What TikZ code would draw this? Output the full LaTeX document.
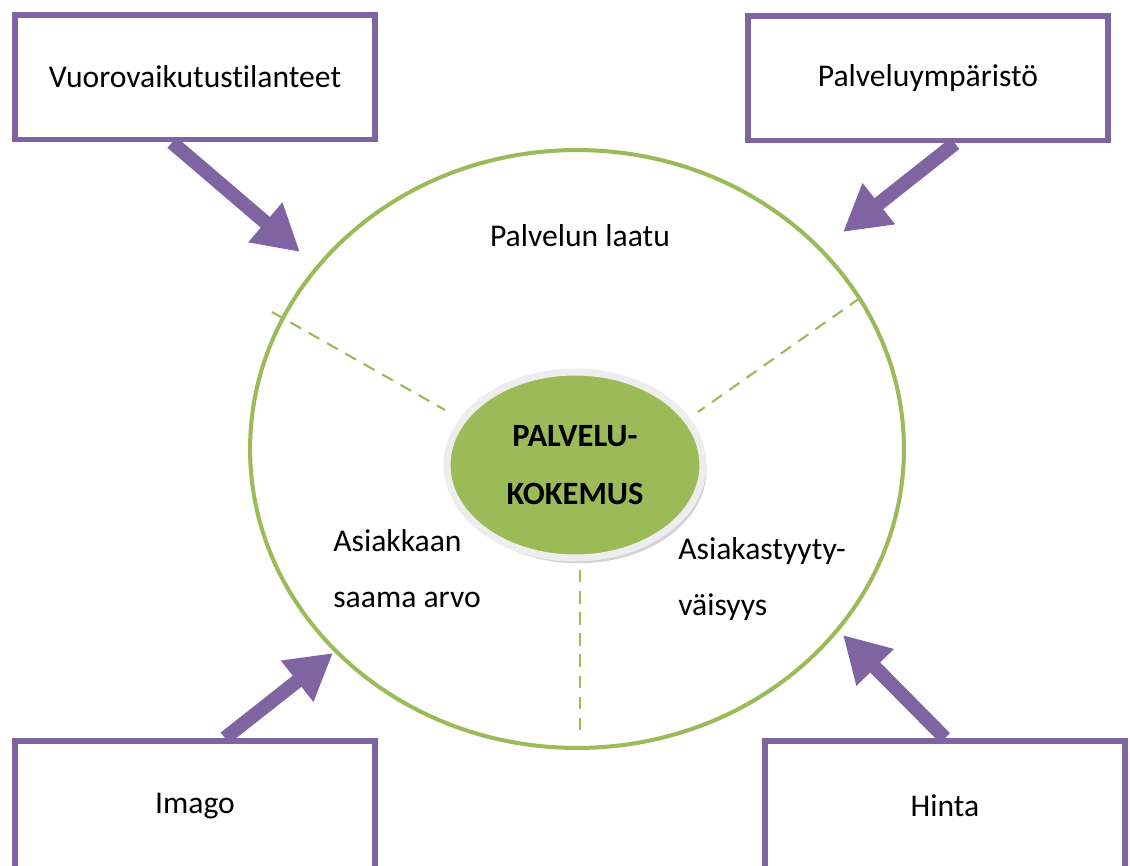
\documentclass[tikz,border=0pt]{standalone}
\usepackage{fontspec}
\setmainfont{Carlito}[Ligatures=NoCommon]
\usetikzlibrary{shapes.geometric, arrows.meta, shadows}
\definecolor{lila}{HTML}{8064A2}
\definecolor{vihrea}{HTML}{9BBB59}
\begin{document}
\begin{tikzpicture}[x=0.02cm, y=-0.02cm]
\useasboundingbox (0,0) rectangle (1130,866);
\tikzstyle{laatikko}=[draw=lila, line width=3.4pt, minimum width=7.2cm, minimum height=2.5cm, inner sep=0pt, font=\fontsize{18}{21}\selectfont]
\tikzstyle{nuoli}=[lila, line width=8pt, -{Triangle[length=26pt, width=28pt]}]
\tikzstyle{katko}=[vihrea, line width=1.2pt, dash pattern=on 7pt off 5pt]
\tikzstyle{teksti}=[align=left, font=\fontsize{18}{32}\selectfont, inner sep=0pt]
\node[draw=vihrea, line width=2.3pt, ellipse, minimum width=13.08cm, minimum height=11.96cm](iso) at (577,449){};
\node[laatikko](vuoro) at (195,77){Vuorovaikutustilanteet};
\node[laatikko](ymp) at (928,78){Palveluympäristö};
\node[laatikko, minimum height=2.6cm](imago) at (195,806){Imago};
\node[laatikko, minimum height=2.6cm](hinta) at (945,806){Hinta};
\coordinate (k1) at (300,252);
\coordinate (k2) at (843,232);
\coordinate (k3) at (333,653);
\coordinate (k4) at (843,635);
\coordinate (v1) at (272,312);
\coordinate (v2) at (860,298);
\coordinate (v3) at (580,730);
\coordinate (s1) at (445,410);
\coordinate (s2) at (698,412);
\coordinate (s3) at (580,550);
\foreach \i/\j in {v1/s1,v2/s2,v3/s3}{\draw[katko] (\i) -- (\j);}
\draw[nuoli] ([xshift=-0.46cm]vuoro.south) -- (k1);
\draw[nuoli] ([xshift=0.54cm]ymp.south) -- (k2);
\draw[nuoli] ([xshift=0.6cm]imago.north) -- (k3);
\draw[nuoli] (hinta.north) -- (k4);
\node[ellipse, fill=vihrea, draw=black!7, line width=4pt, minimum width=5.12cm, minimum height=3.72cm, inner sep=0pt,
  drop shadow={shadow xshift=2pt, shadow yshift=-3pt, fill=black!35}, align=center, font=\fontsize{18.5}{33}\selectfont\bfseries](ydin) at (575,465){PALVELU-\\KOKEMUS};
\node[teksti](laatu) at (580,236){Palvelun laatu};
\node[teksti, anchor=west](arvo) at (333,569){Asiakkaan\\saama arvo};
\node[teksti, anchor=west](tyyt) at (678,579){Asiakastyyty-\\väisyys};
\end{tikzpicture}
\end{document}
